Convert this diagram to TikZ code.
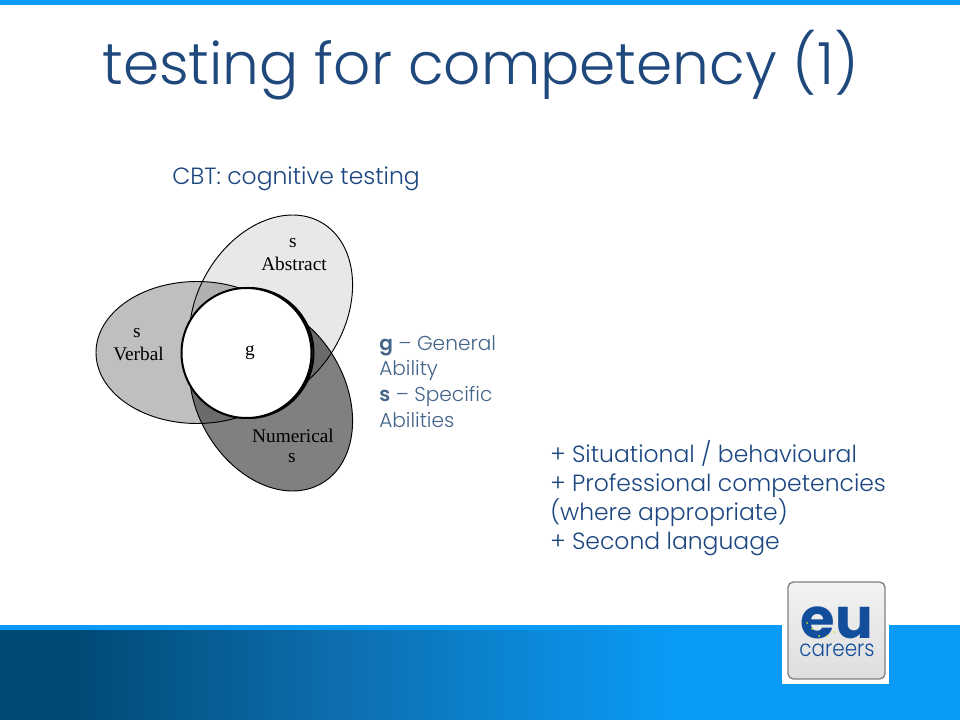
\documentclass[tikz,border=0pt]{standalone}
\usepackage{fontspec}
\setmainfont{Poppins Light}[BoldFont={Poppins SemiBold}]
\newfontfamily\serifx{Liberation Serif}
\newfontfamily\titlefont{Poppins Light}
\newfontfamily\logofont{Poppins}[BoldFont={Poppins Bold}]
\usetikzlibrary{shadings}
\definecolor{barblue}{HTML}{0A9BF6}
\definecolor{darkblue}{HTML}{004A76}
\definecolor{midblue}{HTML}{0D6CAC}
\definecolor{titleblue}{HTML}{1F497D}
\definecolor{textblue}{HTML}{1B4680}
\definecolor{greyblue}{HTML}{44648A}
\definecolor{logoblue}{HTML}{124E9C}
\pgfdeclarehorizontalshading{footbar}{100bp}{color(0bp)=(darkblue); color(29bp)=(darkblue); color(42bp)=(midblue); color(60bp)=(barblue); color(100bp)=(barblue)}
\tikzset{
 lab/.style={font=\serifx\fontsize{14.5}{14.5}\selectfont,text=black,inner sep=0pt,align=center},
 body/.style={inner sep=0pt,anchor=base west,font=\fontsize{17.6}{17.6}\selectfont,text=textblue},
 side/.style={inner sep=0pt,anchor=base west,font=\fontsize{15.1}{15.1}\selectfont,text=greyblue},
 outl/.style={draw=black,line width=.7pt},
}
\newcommand{\ellA}{(271,310) ellipse [x radius=101,y radius=74,rotate=60]}
\newcommand{\ellN}{(271,396) ellipse [x radius=101,y radius=74,rotate=-60]}
\newcommand{\ellV}{(197,352.5) ellipse [x radius=101,y radius=71]}
\begin{document}
\begin{tikzpicture}[x=.75pt,y=-.75pt]
\useasboundingbox (0,0) rectangle (960,720);
\fill[white] (0,0) rectangle (960,720);
\fill[barblue] (0,0) rectangle (960,5.5);
\fill[barblue] (0,625) rectangle (960,631);
\shade[shading=footbar] (0,630) rectangle (960,720);
% Venn
\fill[black!9] \ellA;
\fill[black!25] \ellV;
\fill[black!50] \ellN;
\begin{scope}\clip \ellA; \fill[black!31] \ellV; \end{scope}
\begin{scope}\clip \ellA; \fill[black!58] \ellN; \end{scope}
\begin{scope}\clip \ellV; \fill[black!58] \ellN; \end{scope}
\draw[outl] \ellA; \draw[outl] \ellV; \draw[outl] \ellN;
\draw[black,line width=1.5pt] (248.5,353) circle [radius=65];
\fill[white,draw=black,line width=1.5pt] (246.5,353) circle [radius=65];
\node[lab] (sA) at (293,243) {s};
\node[lab] (abstract) at (294,264) {Abstract};
\node[lab] (sV) at (137,333) {s};
\node[lab] (verbal) at (138.5,354) {Verbal};
\node[lab] (gg) at (250,353) {g};
\node[lab] (numerical) at (293,436) {Numerical};
\node[lab] (sN) at (292,458) {s};
% Title
\node[inner sep=0pt,anchor=base,font=\titlefont\fontsize{43.6}{43.6}\selectfont,text=titleblue] (title) at (480.5,85) {testing for competency (1)};
\node[body] (cbt) at (172,184.5) {CBT: cognitive testing};
\node[side] (l1) at (379,350.5) {\textbf{g} – General};
\node[side] (l2) at (379,375.5) {Ability};
\node[side] (l3) at (379,401.5) {\textbf{s} – Specific};
\node[side] (l4) at (379,427.5) {Abilities};
\node[body] (p1) at (550,462.5) {+ Situational / behavioural};
\node[body] (p2) at (550,491.5) {+ Professional competencies};
\node[body] (p3) at (550,520.5) {(where appropriate)};
\node[body] (p4) at (550,549.5) {+ Second language};
% Logo
\fill[white] (782,578) rectangle (889,684);
\draw[draw=black!50,line width=1pt,top color=black!5,bottom color=black!13,rounded corners=4pt] (788,582) rectangle (885,679);
\node[inner sep=0pt,anchor=base,font=\logofont\bfseries\fontsize{42}{42}\selectfont,text=logoblue] (eu) at (837,638) {eu};
\node[inner sep=0pt,anchor=base,xscale=.88,font=\fontsize{17}{17}\selectfont,text=logoblue] (careers) at (837,656) {careers};
\foreach \p in {(807,623),(812,629),(819,636),(827,636),(834,632)} \fill[yellow!80!green] \p circle [radius=1];
\end{tikzpicture}
\end{document}
